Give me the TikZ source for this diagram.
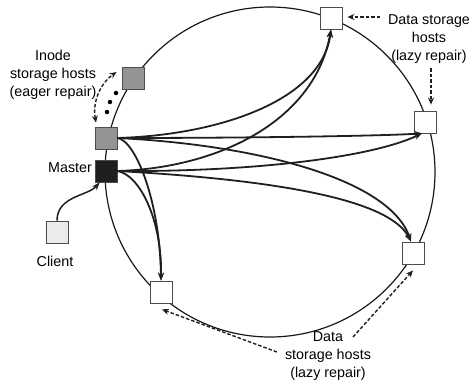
\documentclass[tikz,border=0pt]{standalone}
\usepackage{fontspec}
\setmainfont{Liberation Sans}
\usetikzlibrary{arrows.meta}

\tikzset{
  host/.style={draw=black!70, line width=0.8pt, minimum size=22pt, inner sep=0pt},
  datahost/.style={host, fill=white},
  inodehost/.style={host, fill=black!42},
  masterhost/.style={host, fill=black!88},
  clienthost/.style={host, fill=black!8},
  ring/.style={line width=1.2pt, black!90},
  link/.style={line width=1.8pt, black!88, -{Stealth[length=8pt,width=6pt]}},
  hint/.style={line width=1.4pt, black!88, dash pattern=on 3.5pt off 2pt,
               -{Stealth[length=7pt,width=6pt]}},
  hintboth/.style={hint, {Stealth[length=7pt,width=6pt]}-{Stealth[length=7pt,width=6pt]}},
  caption/.style={font=\fontsize{14.3}{17.8}\selectfont, align=center, inner sep=0pt},
  dot/.style={circle, fill=black, inner sep=0pt, minimum size=4.5pt}
}

\begin{document}
\begin{tikzpicture}[x=1pt, y=-1pt]
  \useasboundingbox (0,0) rectangle (472,384);

  % the storage ring
  \coordinate (hub) at (270,172);
  \draw[ring] (hub) circle[radius=165pt];

  % hosts on the ring
  \node[inodehost]  (ia) at (133,78)  {};
  \node[inodehost]  (ib) at (106,138) {};
  \node[masterhost] (ms) at (106,171) {};
  \node[datahost]   (da) at (331,18)  {};
  \node[datahost]   (db) at (425,122) {};
  \node[datahost]   (dc) at (413,253) {};
  \node[datahost]   (dd) at (161,292) {};
  \node[clienthost] (cl) at (57,232)  {};

  % further inode hosts
  \node[dot] (e1) at (116,93)  {};
  \node[dot] (e2) at (110,102) {};
  \node[dot] (e3) at (107,112) {};

  % captions
  \node[caption] (tinode)  at (53,75)   {Inode\\storage hosts\\(eager repair)};
  \node[caption] (tmaster) at (70,168)  {Master};
  \node[caption] (tclient) at (55,261)  {Client};
  \node[caption] (tdtop)   at (429,39)  {Data storage\\hosts\\(lazy repair)};
  \node[caption] (tdbot)   at (328,356) {Data\\storage hosts\\(lazy repair)};

  % client request
  \draw[link, line width=1.5pt] (cl.north) .. controls (57,196) and (88,196) .. ([xshift=5pt]ms.south west);

  % inode host to data hosts
  \draw[link] (ib.east) .. controls (220,135) and (322,100) .. (da.south);
  \draw[link] (ib.east) .. controls (250,138) and (380,136) .. ([xshift=-3pt]db.south);
  \draw[link] (ib.east) .. controls (260,145) and (390,180) .. ([xshift=-2pt]dc.north);
  \draw[link] (ib.east) .. controls (135,140) and (160,200) .. (dd.north);

  % master to data hosts
  \draw[link] (ms.east) .. controls (220,168) and (315,120) .. (da.south);
  \draw[link] (ms.east) .. controls (250,172) and (370,158) .. ([xshift=-3pt]db.south);
  \draw[link] (ms.east) .. controls (280,180) and (390,200) .. ([xshift=-2pt]dc.north);
  \draw[link] (ms.east) .. controls (140,175) and (162,220) .. (dd.north);

  % repair hints
  \draw[hintboth] ([xshift=-10pt,yshift=4pt]ib.north) .. controls (92,100) and (102,82) .. ([xshift=-5pt,yshift=6pt]ia.west);
  \coordinate (ha) at (380,17);
  \draw[hint] (ha) -- ([xshift=5pt,yshift=1pt]da.east);
  \coordinate (hb) at (431,68);
  \draw[hint] (hb) -- ([xshift=6pt,yshift=6pt]db.north);
  \coordinate (hc) at (277,352);
  \draw[hint] (hc) -- ([xshift=1pt,yshift=-6pt]dd.south);
  \coordinate (hd) at (353,337);
  \draw[hint] (hd) -- ([yshift=-6pt]dc.south);
\end{tikzpicture}
\end{document}
